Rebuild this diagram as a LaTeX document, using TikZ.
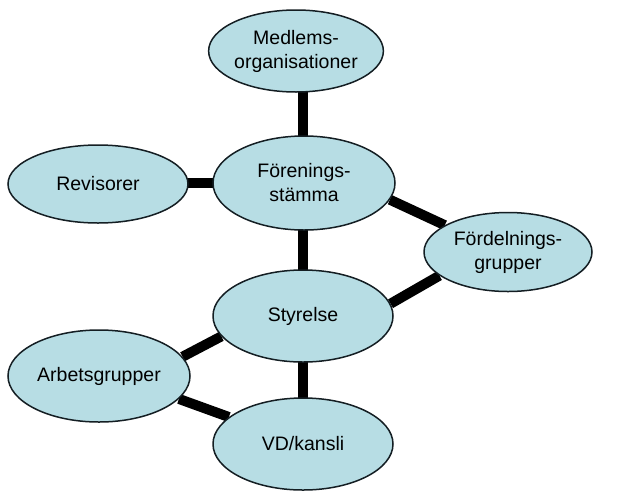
\documentclass[tikz,border=0pt]{standalone}
\usepackage{fontspec}
\setmainfont{Liberation Sans}
\usetikzlibrary{shapes.geometric,backgrounds}
\definecolor{bubble}{RGB}{183,221,228}
\definecolor{rim}{RGB}{20,30,35}
\begin{document}
\begin{tikzpicture}[x=1pt,y=-1pt,
  bub/.style={ellipse,draw=rim,line width=1.5pt,fill=bubble,inner sep=0pt,
    align=center,font=\fontsize{19.5}{24}\selectfont},
  link/.style={line width=10pt,black}]
\useasboundingbox (0,0) rectangle (617,496);
\node[bub,minimum width=162pt,minimum height=82pt] (m) at (296,51) {Medlems-\\organisationer};
\node[bub,minimum width=180pt,minimum height=78pt] (r) at (98,184) {Revisorer};
\node[bub,minimum width=182pt,minimum height=94pt] (fs) at (304,183) {Förenings-\\stämma};
\node[bub,minimum width=168pt,minimum height=79pt] (fd) at (508,252) {Fördelnings-\\grupper};
\node[bub,minimum width=180pt,minimum height=92pt] (s) at (303,316) {Styrelse};
\node[bub,minimum width=182pt,minimum height=92pt] (a) at (99,376) {Arbetsgrupper};
\node[bub,minimum width=180pt,minimum height=92pt] (v) at (303,444) {VD/kansli};
\begin{pgfonlayer}{background}
\fill[white] (0,0) rectangle (617,496);
\draw[link] ([xshift=-1pt]fs.center) -- ([xshift=-1pt]fs.center |- m.center);
\draw[link] (r.center |- fs.center) -- (fs.center);
\draw[link] ([xshift=-1pt]fs.center) -- ([xshift=-1pt]fs.center |- s.center);
\draw[link] (fs.-11) -- (fd.157);
\draw[link] (s.8) -- (fd.199);
\draw[link] (a.13) -- (s.194);
\draw[link] (a.-16) -- (v.160);
\draw[link] (s.center) -- (v.center);
\end{pgfonlayer}
\end{tikzpicture}
\end{document}
